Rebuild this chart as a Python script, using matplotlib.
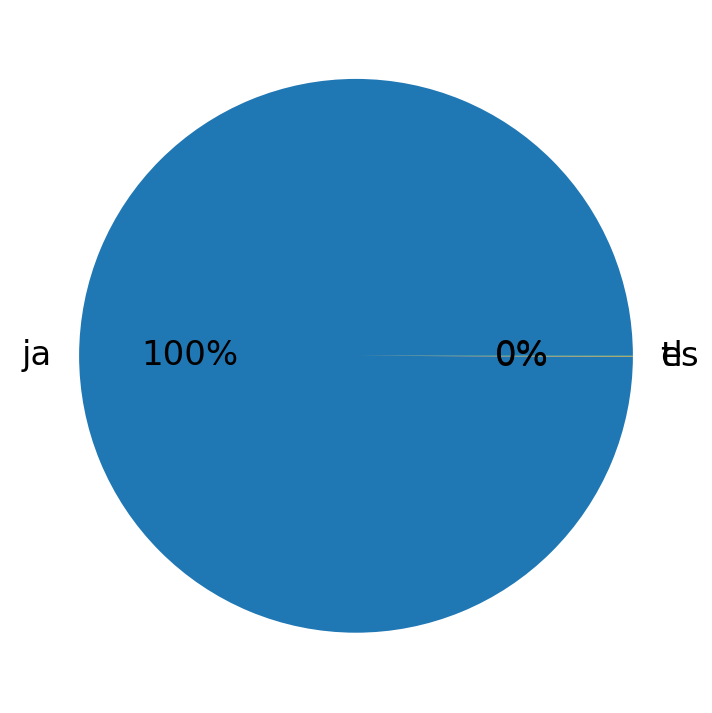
import matplotlib
matplotlib.use("Agg")
import matplotlib.pyplot as plt

# language counts (approximate)
labels = ["ja", "tl", "es"]
counts = [4000, 1, 1]

fig = plt.figure(figsize=(7.12, 7.13), dpi=100)
ax = fig.add_axes([0, 0, 1, 1])

ax.pie(counts, labels=labels, autopct="%1.0f%%",
       textprops={"fontsize": 24.5})

ax.set_aspect("equal")
ax.set_xlim(-1.285, 1.285)
ax.set_ylim(-1.29, 1.285)
ax.axis("off")

fig.savefig("out.png", dpi=100)
